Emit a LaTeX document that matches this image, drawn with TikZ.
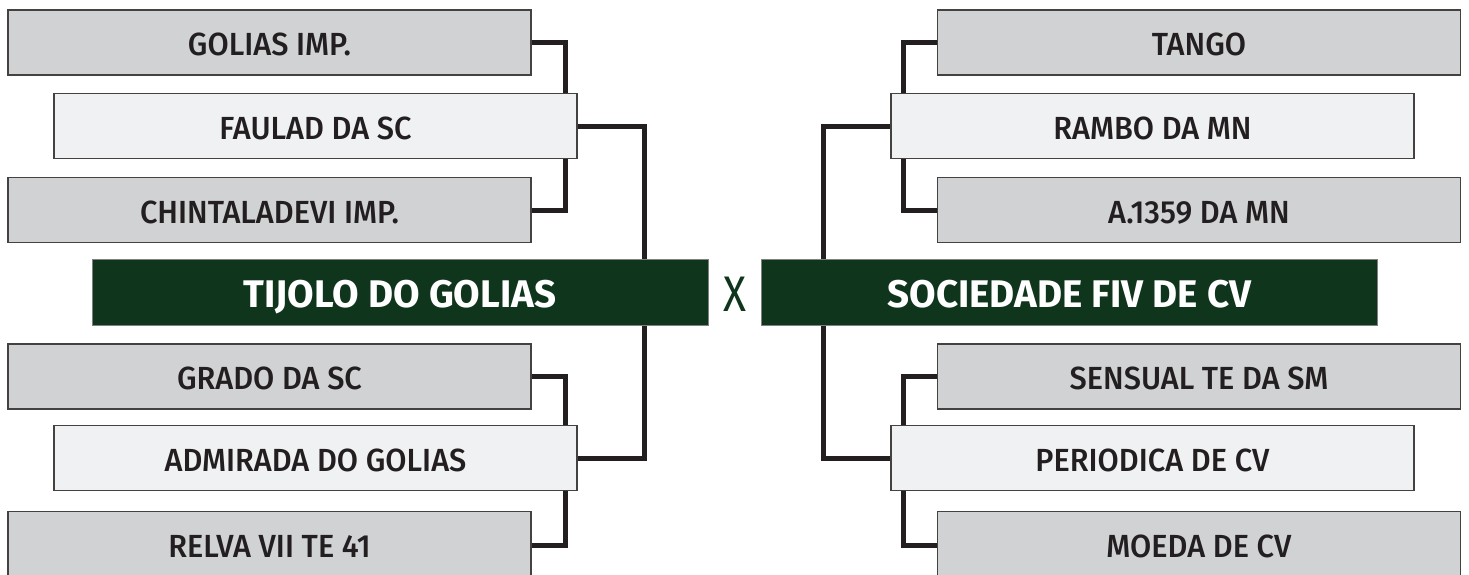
\documentclass[tikz,border=0pt]{standalone}
\usepackage{fontspec}
\setmainfont{Fira Sans Medium}[FakeStretch=0.96]
\newfontfamily\teamfont{Fira Sans Bold}
\newfontfamily\vsfont{Fira Sans}[FakeStretch=0.85]
\usetikzlibrary{backgrounds}
\definecolor{boxgray}{HTML}{D1D2D4}
\definecolor{boxlight}{HTML}{F0F1F3}
\definecolor{teamgreen}{HTML}{0F351C}
\definecolor{ink}{HTML}{231F20}
\begin{document}
\begin{tikzpicture}[x=1pt,y=-1pt,
  entry/.style={draw=ink!85, line width=1.2pt, minimum width=523pt, minimum height=65pt,
    inner sep=0pt, text height=26.5pt, text depth=0pt, font=\fontsize{32}{32}\selectfont, text=ink},
  grayentry/.style={entry, fill=boxgray},
  lightentry/.style={entry, fill=boxlight},
  team/.style={fill=teamgreen, draw=gray, line width=0.8pt, minimum width=616pt, minimum height=66pt,
    inner sep=0pt, text height=30pt, text depth=0pt, text=white, font=\teamfont\fontsize{38.5}{38.5}\selectfont},
  versus/.style={text=teamgreen, inner sep=0pt, text height=34pt, text depth=0pt, font=\vsfont\fontsize{50}{50}\selectfont},
  conn/.style={draw=ink, line width=5pt, line join=miter}]
\useasboundingbox (0,0) rectangle (1469,574);
% left side
\node[grayentry]  (golias)    at (269.5,42.5) {GOLIAS IMP.};
\node[lightentry] (faulad)    at (315.5,126)  {FAULAD DA SC};
\node[grayentry]  (chinta)    at (269.5,210)  {CHINTALADEVI IMP.};
\node[team]       (tijolo)    at (400,292)    {TIJOLO DO GOLIAS};
\node[grayentry]  (grado)     at (269.5,376.5){GRADO DA SC};
\node[lightentry] (admirada)  at (315.5,458)  {ADMIRADA DO GOLIAS};
\node[grayentry]  (relva)     at (269.5,544)  {RELVA VII TE 41};
% middle
\node[versus]     (vs)        at (735,294)    {X};
% right side
\node[grayentry]  (tango)     at (1199,42.5)  {TANGO};
\node[lightentry] (rambo)     at (1152.5,126) {RAMBO DA MN};
\node[grayentry]  (amn)       at (1199,210)   {A.1359 DA MN};
\node[team]       (sociedade) at (1069.5,292) {SOCIEDADE FIV DE CV};
\node[grayentry]  (sensual)   at (1199,376.5) {SENSUAL TE DA SM};
\node[lightentry] (periodica) at (1152.5,458) {PERIODICA DE CV};
\node[grayentry]  (moeda)     at (1199,544)   {MOEDA DE CV};
% connectors
\begin{pgfonlayer}{background}
\fill[white] (0,0) rectangle (1469,574);
\draw[conn] (golias.east) -- ++(34,0) |- (chinta.east);
\draw[conn] (faulad.east) -- ++(67,0) |- (admirada.east);
\draw[conn] (grado.east) -- ++(34,0) |- ([yshift=-1.5pt]relva.east);
\draw[conn] (tango.west) -- ++(-33,0) |- (amn.west);
\draw[conn] (rambo.west) -- ++(-67,0) |- (periodica.west);
\draw[conn] (sensual.west) -- ++(-33,0) |- ([yshift=-1.5pt]moeda.west);
\end{pgfonlayer}
\end{tikzpicture}
\end{document}
